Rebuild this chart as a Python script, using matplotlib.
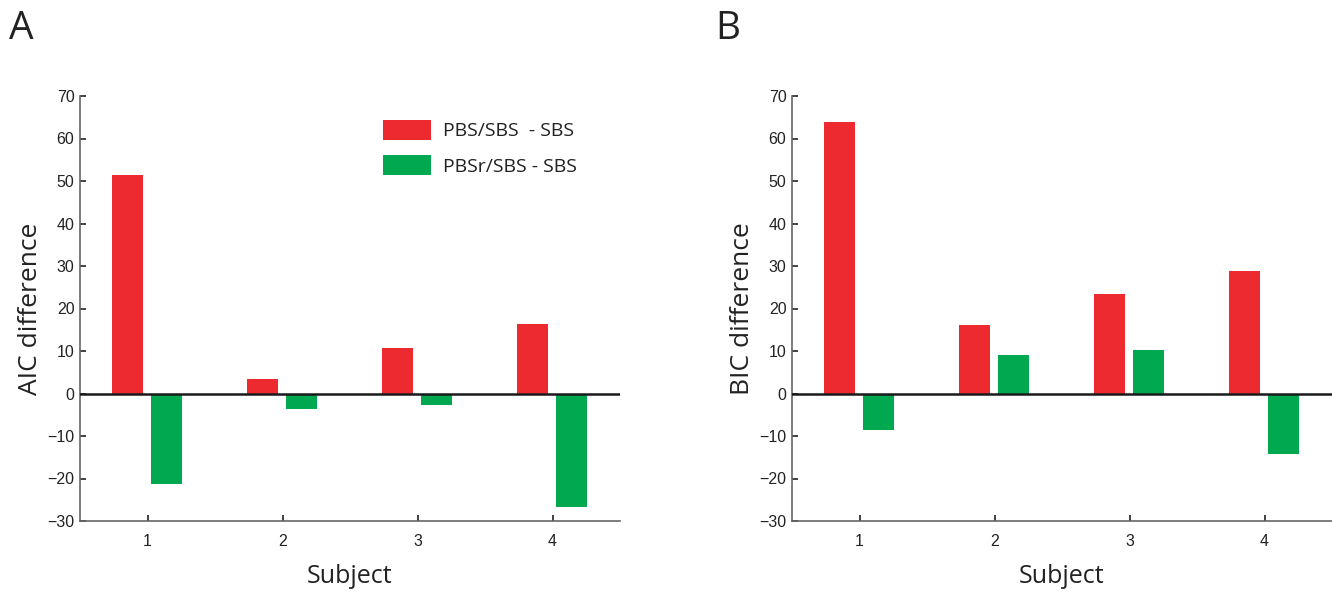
import matplotlib
matplotlib.use("Agg")
import matplotlib.pyplot as plt
import numpy as np
from matplotlib.patches import Patch

subjects = [1, 2, 3, 4]
aic_pbs = [51.4, 3.5, 10.7, 16.4]
aic_pbsr = [-21.3, -3.7, -2.6, -26.7]
bic_pbs = [63.8, 16.2, 23.5, 28.8]
bic_pbsr = [-8.6, 9.1, 10.3, -14.2]
legend_labels = ["PBS/SBS  - SBS", "PBSr/SBS - SBS"]
yticks = [-30, -20, -10, 0, 10, 20, 30, 40, 50, 60, 70]

RED = "#EC2A2F"
GREEN = "#00A84F"
LABEL_FONT = "Open Sans"
TICK_FONT = "Liberation Sans"

fig = plt.figure(figsize=(13.32, 5.91), dpi=100)
axA = fig.add_axes([80/1332, 1-521/591, 540/1332, 425/591])
axB = fig.add_axes([792/1332, 1-521/591, 540/1332, 425/591])

def draw(ax, red, green, ylabel):
    x = np.array(subjects, dtype=float)
    w = 0.23
    ax.bar(x - 0.147, red, width=w, color=RED, linewidth=0)
    ax.bar(x + 0.143, green, width=w, color=GREEN, linewidth=0)
    ax.axhline(0, color="#1a1a1a", linewidth=1.8, zorder=3)
    ax.set_xlim(0.5, 4.5)
    ax.set_ylim(-30, 70)
    ax.set_yticks(yticks)
    ax.set_yticklabels([str(t).replace("-", "\u2212") for t in yticks])
    ax.set_xticks(subjects)
    ax.set_xticklabels([str(s) for s in subjects])
    for s in ["top", "right"]:
        ax.spines[s].set_visible(False)
    for s in ["left", "bottom"]:
        ax.spines[s].set_color("#666666")
        ax.spines[s].set_linewidth(1.2)
    ax.tick_params(direction="in", length=4, width=1.2, color="#222222",
                   labelsize=11.5, labelcolor="#222222", pad=4)
    ax.tick_params(axis="x", pad=9)
    for lab in ax.get_xticklabels() + ax.get_yticklabels():
        lab.set_fontfamily(TICK_FONT)
    ax.set_ylabel(ylabel, fontsize=19, fontfamily=LABEL_FONT, color="#222222", labelpad=3)
    ax.set_xlabel("Subject", fontsize=18, fontfamily=LABEL_FONT, color="#222222", labelpad=11)

draw(axA, aic_pbs, aic_pbsr, "AIC difference")
draw(axB, bic_pbs, bic_pbsr, "BIC difference")

handles = [Patch(facecolor=RED, edgecolor="none"), Patch(facecolor=GREEN, edgecolor="none")]
leg = axA.legend(handles, legend_labels, loc="upper left", bbox_to_anchor=(0.528, 0.985),
                 frameon=False, handlelength=2.5, handleheight=1.2, handletextpad=0.6,
                 labelspacing=0.75, prop={"family": LABEL_FONT, "size": 14})
for t in leg.get_texts():
    t.set_color("#222222")

fig.text(9/1332, 1-39/591, "A", fontsize=28, fontfamily=LABEL_FONT, color="#222222")
fig.text(715/1332, 1-39/591, "B", fontsize=28, fontfamily=LABEL_FONT, color="#222222")

fig.savefig("out.png", dpi=100)
